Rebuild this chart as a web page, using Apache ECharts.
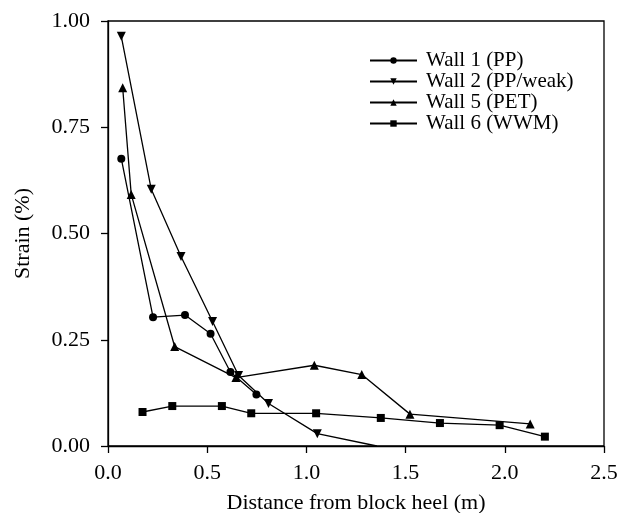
<!DOCTYPE html>
<html lang="en">
<head>
    <meta charset="UTF-8">
    <title>Strain vs distance</title>
    <script type="text/javascript" src="https://cdn.jsdelivr.net/npm/echarts@6/dist/echarts.min.js"></script>
    <style>
        html, body { margin: 0; padding: 0; background: #fff; }
        #main { width: 626px; height: 513px; }
    </style>
</head>
<body>
<div id="main"></div>
<script>
    // data: [distance (m), strain (%)]
    let wall1 = [[0.067, 0.676], [0.227, 0.303], [0.388, 0.308], [0.517, 0.264], [0.617, 0.174], [0.748, 0.121]];
    let wall2 = [[0.067, 0.964], [0.218, 0.604], [0.368, 0.446], [0.527, 0.293], [0.658, 0.166], [0.809, 0.100], [1.055, 0.029], [1.355, 0.0]];
    let wall5 = [[0.074, 0.843], [0.117, 0.592], [0.336, 0.234], [0.645, 0.161], [1.040, 0.190], [1.279, 0.168], [1.522, 0.075], [2.128, 0.052]];
    let wall6 = [[0.174, 0.080], [0.324, 0.094], [0.574, 0.094], [0.722, 0.077], [1.049, 0.077], [1.375, 0.066], [1.673, 0.054], [1.974, 0.049], [2.202, 0.022]];
    let seriesNames = ['Wall 1 (PP)', 'Wall 2 (PP/weak)', 'Wall 5 (PET)', 'Wall 6 (WWM)'];

    let font = 'Liberation Serif';

    function makeSeries(name, data, symbol, size) {
        return {
            name: name,
            type: 'line',
            data: data,
            symbol: symbol,
            symbolSize: size,
            showAllSymbol: true,
            clip: true,
            lineStyle: {color: '#000', width: 1.3},
            itemStyle: {color: '#000'}
        };
    }

    // last point of wall 2 sits on the axis, no marker there
    let wall2Data = wall2.map(function (p, i) {
        return i === wall2.length - 1 ? {value: p, symbol: 'none'} : p;
    });

    var myChart = echarts.init(document.getElementById('main'));
    var option = {
        animation: false,
        backgroundColor: '#fff',
        textStyle: {fontFamily: font, color: '#000'},
        grid: {
            left: 108, right: 22, top: 21, bottom: 67,
            outerBoundsMode: 'none',
            show: true, borderColor: '#000', borderWidth: 1.3
        },
        legend: {
            orient: 'vertical',
            left: 364,
            top: 45,
            itemWidth: 47,
            itemHeight: 8,
            itemGap: 0,
            data: seriesNames,
            textStyle: {fontFamily: font, fontSize: 21, lineHeight: 21, color: '#000', padding: [0, 0, 0, 4]}
        },
        xAxis: {
            type: 'value',
            min: 0, max: 2.5, interval: 0.5,
            name: 'Distance from block heel (m)',
            nameLocation: 'middle',
            nameGap: 46,
            nameTextStyle: {fontFamily: font, fontSize: 22, color: '#000'},
            axisLine: {lineStyle: {color: '#000', width: 1.3}},
            axisTick: {show: true, length: 7, lineStyle: {color: '#000', width: 1.3}},
            axisLabel: {fontFamily: font, fontSize: 22, color: '#000', margin: 16,
                formatter: function (v) { return v.toFixed(1); }},
            splitLine: {show: false}
        },
        yAxis: {
            type: 'value',
            min: 0, max: 1, interval: 0.25,
            name: 'Strain (%)',
            nameLocation: 'middle',
            nameGap: 74,
            nameTextStyle: {fontFamily: font, fontSize: 22, color: '#000'},
            axisLine: {show: true, lineStyle: {color: '#000', width: 1.3}},
            axisTick: {show: true, length: 7, lineStyle: {color: '#000', width: 1.3}},
            axisLabel: {fontFamily: font, fontSize: 22, color: '#000', margin: 18,
                formatter: function (v) { return v.toFixed(2); }},
            splitLine: {show: false}
        },
        series: [
            makeSeries(seriesNames[0], wall1, 'circle', 8),
            makeSeries(seriesNames[1], wall2Data, 'triangle', 9),
            makeSeries(seriesNames[2], wall5, 'triangle', 9),
            makeSeries(seriesNames[3], wall6, 'rect', 8)
        ]
    };
    // wall 2 uses downward triangles
    option.series[1].symbolRotate = 180;
    myChart.setOption(option);
</script>
</body>
</html>
